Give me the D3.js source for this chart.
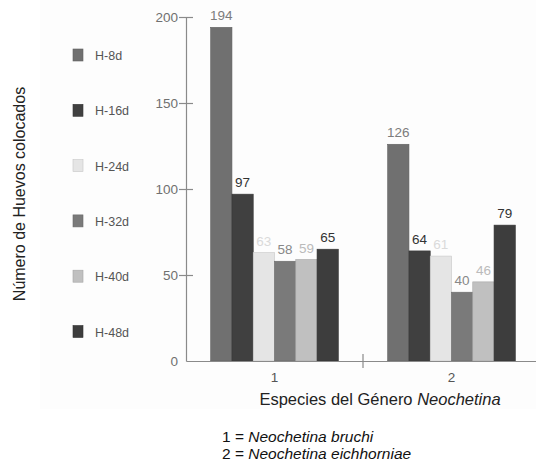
<!DOCTYPE html>
<html>
<head>
<meta charset="utf-8">
<script src="https://cdn.jsdelivr.net/npm/d3@7"></script>
<style>
  body { margin: 0; background: #fff; }
  svg { font-family: "Liberation Sans", Arial, sans-serif; }
</style>
</head>
<body>
<svg id="chart" width="536" height="462"></svg>
<script>
// data
let species = ["1", "2"];
let series = ["H-8d", "H-16d", "H-24d", "H-32d", "H-40d", "H-48d"];
let values1 = [194, 97, 63, 58, 59, 65];
let values2 = [126, 64, 61, 40, 46, 79];
let yTicks = [0, 50, 100, 150, 200];
let notes = [["1 = ", "Neochetina bruchi"], ["2 = ", "Neochetina eichhorniae"]];

let fills = ["#707070", "#404040", "#e5e5e5", "#7a7a7a", "#c0c0c0", "#3d3d3d"];
let labelColors = ["#7c7c7c", "#333333", "#dadada", "#888888", "#bbbbbb", "#333333"];

let rows = [];
species.forEach(function (s, i) {
    let vals = i === 0 ? values1 : values2;
    series.forEach(function (k, j) {
        rows.push({ species: s, key: k, value: vals[j], idx: j });
    });
});

let svg = d3.select("#chart");

// faint backdrop as in the picture
svg.append("rect")
    .attr("x", 40).attr("y", 0)
    .attr("width", 496).attr("height", 409)
    .attr("fill", "#fdfdfd");

let x = d3.scaleBand()
    .domain(species)
    .range([186, 540]);

let xi = d3.scaleBand()
    .domain(series)
    .range([0, x.bandwidth()])
    .paddingOuter(1.16);

let y = d3.scaleLinear()
    .domain([0, 200])
    .range([361, 17]);

// bars
svg.append("g")
    .selectAll("rect")
    .data(rows)
    .join("rect")
    .attr("x", function (d) { return x(d.species) + xi(d.key); })
    .attr("y", function (d) { return y(d.value); })
    .attr("width", xi.bandwidth())
    .attr("height", function (d) { return y(0) - y(d.value); })
    .attr("fill", function (d) { return fills[d.idx]; })
    .attr("stroke", function (d) { return d3.color(fills[d.idx]).darker(0.4); })
    .attr("stroke-width", 0.6);

// value labels
svg.append("g")
    .selectAll("text")
    .data(rows)
    .join("text")
    .attr("x", function (d) { return x(d.species) + xi(d.key) + xi.bandwidth() / 2; })
    .attr("y", function (d) { return y(d.value) - 7; })
    .attr("text-anchor", "middle")
    .attr("font-size", 13.5)
    .attr("fill", function (d) { return labelColors[d.idx]; })
    .text(function (d) { return d.value; });

// Y axis
let yAxis = svg.append("g")
    .attr("transform", "translate(186,0)")
    .call(d3.axisLeft(y).tickValues(yTicks).tickSize(7).tickPadding(1).tickSizeOuter(0));
yAxis.select(".domain").attr("stroke", "#8a8a8a").attr("stroke-width", 1.2);
yAxis.selectAll(".tick line")
    .attr("x1", function (d) { return d === 0 ? 0 : 7; })
    .attr("x2", function (d) { return d === 0 ? 0 : -7; })
    .attr("stroke", "#8a8a8a").attr("stroke-width", 1.2);
yAxis.selectAll(".tick text")
    .attr("font-size", 13.5)
    .attr("font-family", "Liberation Sans, Arial, sans-serif")
    .attr("fill", "#707070");

// X axis
let xAxis = svg.append("g")
    .attr("transform", "translate(0,361)")
    .call(d3.axisBottom(x).tickSize(0).tickPadding(11).tickSizeOuter(0));
xAxis.select(".domain").attr("stroke", "#8a8a8a").attr("stroke-width", 1.2);
xAxis.selectAll(".tick text")
    .attr("font-size", 13.5)
    .attr("font-family", "Liberation Sans, Arial, sans-serif")
    .attr("fill", "#555");

// separator tick between the two groups
xAxis.append("line")
    .attr("x1", x("2")).attr("x2", x("2"))
    .attr("y1", -7).attr("y2", 7)
    .attr("stroke", "#8a8a8a").attr("stroke-width", 1.2);

// legend
let legend = svg.append("g")
    .selectAll("g")
    .data(series)
    .join("g")
    .attr("transform", function (d, i) { return "translate(73," + (55 + i * 55.3) + ")"; });
legend.append("rect")
    .attr("x", 0).attr("y", -6)
    .attr("width", 10).attr("height", 12)
    .attr("fill", function (d, i) { return fills[i]; })
    .attr("stroke", function (d, i) { return d3.color(fills[i]).darker(0.4); })
    .attr("stroke-width", 0.6);
legend.append("text")
    .attr("x", 22).attr("y", 5)
    .attr("font-size", 12.5)
    .attr("fill", "#555")
    .text(function (d) { return d; });

// Y title
svg.append("text")
    .attr("transform", "translate(25,194) rotate(-90)")
    .attr("text-anchor", "middle")
    .attr("font-size", 16)
    .attr("fill", "#222")
    .text("Número de Huevos colocados");

// X title
let xt = svg.append("text")
    .attr("x", 380).attr("y", 405)
    .attr("text-anchor", "middle")
    .attr("font-size", 16.5)
    .attr("fill", "#222");
xt.append("tspan").text("Especies del Género ");
xt.append("tspan").attr("font-style", "italic").text("Neochetina");

// species notes
let nt = svg.append("g")
    .selectAll("text")
    .data(notes)
    .join("text")
    .attr("x", 222)
    .attr("y", function (d, i) { return 442 + i * 17; })
    .attr("font-size", 15.5)
    .attr("fill", "#111");
nt.append("tspan").text(function (d) { return d[0]; });
nt.append("tspan").attr("font-style", "italic").text(function (d) { return d[1]; });
</script>
</body>
</html>
